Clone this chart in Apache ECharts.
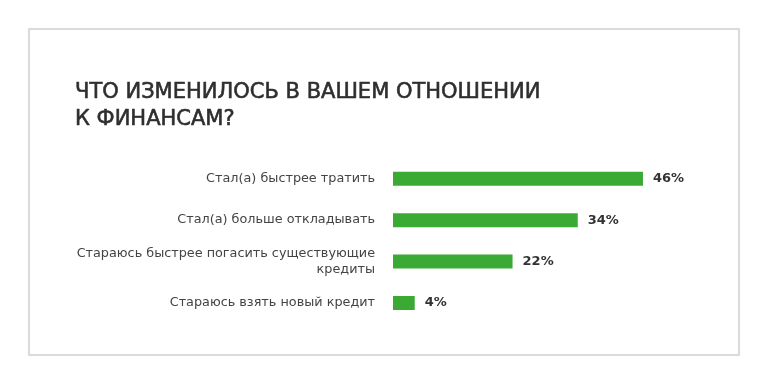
<!DOCTYPE html>
<html>
<head>
<meta charset="utf-8">
<script src="https://cdn.jsdelivr.net/npm/echarts@6/dist/echarts.min.js"></script>
<style>
html,body{margin:0;padding:0;background:#fff;}
#chart{width:768px;height:384px;}
</style>
</head>
<body>
<div id="chart"></div>
<script>
const titleText = "ЧТО ИЗМЕНИЛОСЬ В ВАШЕМ ОТНОШЕНИИ\nК ФИНАНСАМ?";
const categories = [
  "Стал(а) быстрее тратить",
  "Стал(а) больше откладывать",
  "Стараюсь быстрее погасить существующие\nкредиты",
  "Стараюсь взять новый кредит"
];
const values = [46, 34, 22, 4];

const chart = echarts.init(document.getElementById('chart'), null, {renderer: 'canvas'});
const FONT = "DejaVu Sans";
chart.setOption({
  backgroundColor: '#ffffff',
  animation: false,
  title: {
    text: titleText,
    left: 70,
    top: 74,
    textStyle: {
      fontFamily: FONT,
      fontSize: 21,
      fontWeight: 'normal',
      lineHeight: 27,
      color: '#2e2e2e',
      textBorderColor: '#2e2e2e',
      textBorderWidth: 0.6
    }
  },
  graphic: [{
    type: 'rect',
    shape: {x: 29, y: 29, width: 710, height: 326},
    style: {fill: 'none', stroke: '#cfcfcf', lineWidth: 1.5},
    silent: true,
    z: -1
  }],
  grid: {left: 393, width: 271.7, top: 158, bottom: 60.3, containLabel: false},
  xAxis: {
    type: 'value', min: 0, max: 50,
    show: false
  },
  yAxis: {
    type: 'category',
    data: categories,
    inverse: true,
    axisLine: {show: false},
    axisTick: {show: false},
    splitLine: {show: false},
    axisLabel: {
      margin: 18,
      fontFamily: FONT,
      fontSize: 12.8,
      lineHeight: 16,
      color: '#444444',
      align: 'right'
    }
  },
  series: [{
    type: 'bar',
    data: values,
    barWidth: 14,
    itemStyle: {color: '#3aaa35'},
    label: {
      show: true,
      position: 'right',
      distance: 10,
      formatter: '{c}%',
      fontFamily: FONT,
      fontSize: 13,
      fontWeight: 'bold',
      color: '#333333'
    }
  }]
});
</script>
</body>
</html>
